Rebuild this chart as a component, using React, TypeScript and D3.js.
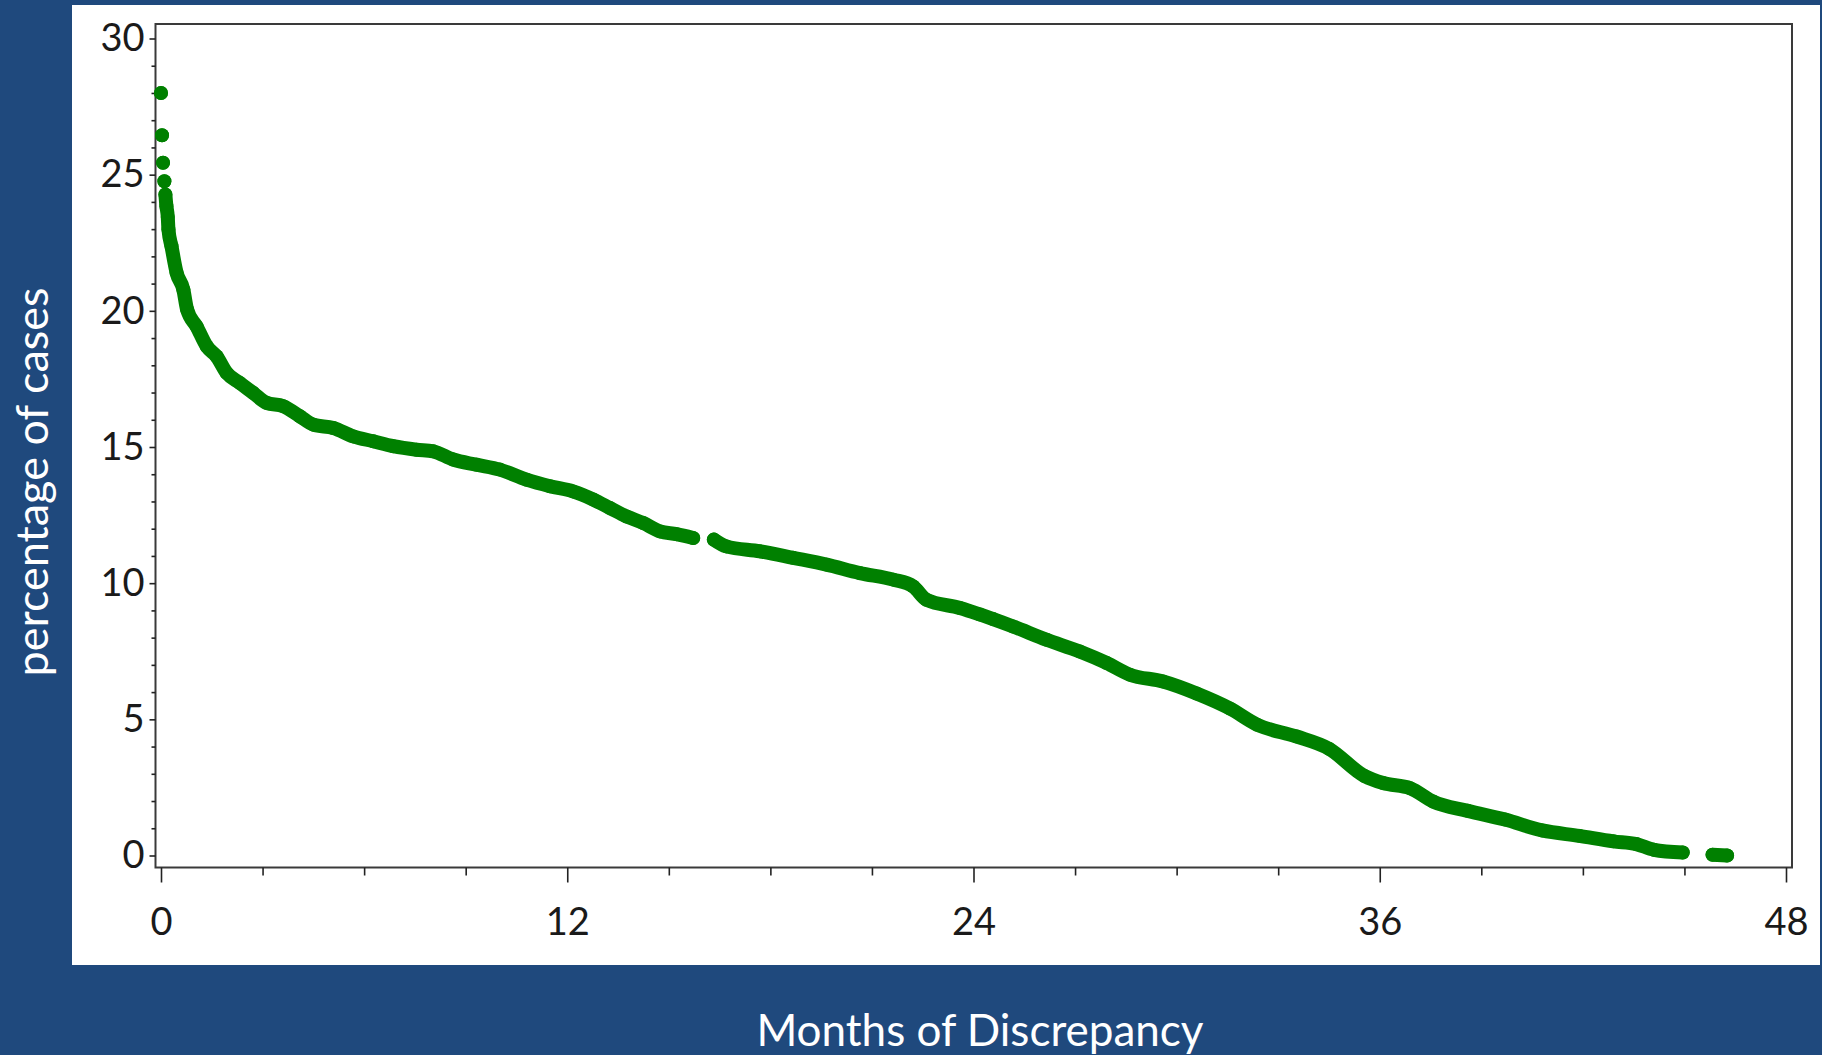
import React, { useRef, useEffect } from "react";
import * as d3 from "d3";

const WIDTH = 1822;
const HEIGHT = 1055;

// values; null = break between runs of points
const months = [
  0.0, null, 0.03, null, 0.06, null, 0.1, null,
  0.13, 0.16, 0.2, 0.22, 0.31, 0.46, 0.66, 0.77, 1.05, 1.35, 1.64, 1.94,
  2.33, 2.72, 3.12, 3.61, 4.1, 4.5, 5.09, 5.68, 6.27, 6.86, 7.55, 8.04,
  8.63, 9.32, 10.01, 10.8, 11.49, 12.17, 12.77, 13.26, 13.75, 14.24, 14.74,
  15.23, 15.72, null,
  16.33, 16.7, 17.69, 18.67, 19.66, 20.64, 21.63, 22.22, 22.61, 23.6, 24.19,
  24.58, 25.17, 26.16, 27.14, 27.93, 28.62, 29.6, 30.59, 31.57, 32.38, 33.54,
  34.5, 35.55, 36.1, 36.9, 37.58, 38.6, 39.7, 40.8, 41.9, 42.9, 43.58, 44.1,
  44.95, null,
  45.83, 46.26,
];

const pct = [
  28.0, null, 26.45, null, 25.44, null, 24.76, null,
  24.27, 23.84, 23.45, 22.99, 22.37, 21.4, 20.78, 20.05, 19.43, 18.7, 18.33, 17.72,
  17.35, 16.99, 16.62, 16.5, 16.13, 15.82, 15.7, 15.39, 15.21, 15.03, 14.9, 14.84,
  14.54, 14.35, 14.17, 13.8, 13.56, 13.37, 13.07, 12.76, 12.45, 12.21, 11.9,
  11.8, 11.66, null,
  11.6, 11.35, 11.17, 10.93, 10.68, 10.37, 10.13, 9.88, 9.39, 9.09, 8.85,
  8.68, 8.41, 7.92, 7.49, 7.07, 6.64, 6.39, 5.95, 5.4, 4.8, 4.37,
  3.92, 2.92, 2.66, 2.47, 1.98, 1.64, 1.32, 0.92, 0.72, 0.52, 0.42, 0.21,
  0.11, null,
  0.03, 0.0,
];

const xMajorTicks = [0, 12, 24, 36, 48];
const xMinorTicks = [3, 6, 9, 15, 18, 21, 27, 30, 33, 39, 42, 45];
const yMajorTicks = [0, 5, 10, 15, 20, 25, 30];
const yMinorTicks = d3.range(0, 31).filter((v) => v % 5 !== 0);

const xLabel = "Months of Discrepancy";
const yLabel = "percentage of cases";

const BLUE = "#1f497d";
const GREEN = "#008000";
const FONT = "Lato, 'Open Sans', sans-serif";

const App = () => {
  const svgRef = useRef(null);

  useEffect(() => {
    const svg = d3.select(svgRef.current);
    svg.selectAll("*").remove();

    const x = d3.scaleLinear().domain([0, 48]).range([161, 1786]);
    const y = d3.scaleLinear().domain([0, 30]).range([855.5, 38.5]);

    // slide background + white chart panel
    svg.append("rect").attr("width", WIDTH).attr("height", HEIGHT).attr("fill", BLUE);
    svg.append("rect")
      .attr("x", 72).attr("y", 5)
      .attr("width", 1748).attr("height", 960)
      .attr("fill", "#ffffff");

    // plot frame
    const frameLeft = x(0) - 5.5;
    const frameRight = x(48) + 6;
    const frameTop = y(30) - 14.5;
    const frameBottom = y(0) + 12;
    svg.append("rect")
      .attr("x", frameLeft).attr("y", frameTop)
      .attr("width", frameRight - frameLeft)
      .attr("height", frameBottom - frameTop)
      .attr("fill", "none")
      .attr("stroke", "#3a3a3a")
      .attr("stroke-width", 2);

    // x axis
    const gxMinor = svg.append("g").attr("transform", `translate(0,${frameBottom})`)
      .call(d3.axisBottom(x).tickValues(xMinorTicks).tickSize(8).tickFormat(() => ""));
    const gx = svg.append("g").attr("transform", `translate(0,${frameBottom})`)
      .call(d3.axisBottom(x).tickValues(xMajorTicks).tickSize(15).tickPadding(26).tickFormat(d3.format("d")));

    // y axis
    const gyMinor = svg.append("g").attr("transform", `translate(${frameLeft},0)`)
      .call(d3.axisLeft(y).tickValues(yMinorTicks).tickSize(4).tickFormat(() => ""));
    const gy = svg.append("g").attr("transform", `translate(${frameLeft},0)`)
      .call(d3.axisLeft(y).tickValues(yMajorTicks).tickSize(6).tickPadding(5).tickFormat(d3.format("d")));

    [gxMinor, gx, gyMinor, gy].forEach((g) => {
      g.select(".domain").remove();
      g.selectAll(".tick line").attr("stroke", "#222").attr("stroke-width", 1.6);
      g.selectAll("text")
        .attr("fill", "#1a1a1a")
        .style("font-family", FONT)
        .style("font-size", "38px");
    });

    // data band (points are dense enough in the original to merge into one thick trace)
    const points = months.map((m, i) => ({ m, v: pct[i] }));
    const line = d3.line()
      .defined((d) => d.v != null && d.m != null)
      .curve(d3.curveMonotoneX)
      .x((d) => x(d.m))
      .y((d) => y(d.v));

    svg.append("path")
      .datum(points)
      .attr("fill", "none")
      .attr("stroke", GREEN)
      .attr("stroke-width", 14)
      .attr("stroke-linejoin", "round")
      .attr("stroke-linecap", "round")
      .attr("d", line);

    svg.append("g")
      .selectAll("circle")
      .data(points.filter((d) => d.v != null && d.m != null))
      .join("circle")
      .attr("cx", (d) => x(d.m))
      .attr("cy", (d) => y(d.v))
      .attr("r", 7)
      .attr("fill", GREEN);

    // axis titles
    svg.append("text")
      .attr("x", 980)
      .attr("y", 1046)
      .attr("text-anchor", "middle")
      .attr("fill", "#ffffff")
      .style("font-family", FONT)
      .style("font-size", "44px")
      .text(xLabel);

    svg.append("text")
      .attr("transform", "translate(48,482) rotate(-90)")
      .attr("text-anchor", "middle")
      .attr("fill", "#ffffff")
      .style("font-family", FONT)
      .style("font-size", "45px")
      .text(yLabel);
  }, []);

  return (
    <div style={{ position: "absolute", left: 0, top: 0 }}>
      <svg ref={svgRef} width={WIDTH} height={HEIGHT} style={{ display: "block" }}></svg>
    </div>
  );
};

export default App;
